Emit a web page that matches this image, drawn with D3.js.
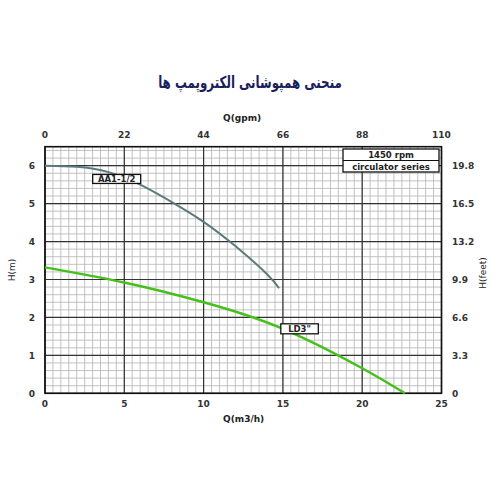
<!DOCTYPE html>
<html><head><meta charset="utf-8">
<script src="https://cdn.jsdelivr.net/npm/d3@7"></script>
<style>body{margin:0;background:#fff}svg{display:block}</style>
</head><body>
<svg id="c" width="500" height="500"></svg>
<script>
const title = "منحنی همپوشانی الکتروپمپ ها";
const xTicks = [0, 5, 10, 15, 20, 25];
const gpmTicks = [0, 22, 44, 66, 88, 110];
const yTicks = [0, 1, 2, 3, 4, 5, 6];
const feetTicks = ["0", "3.3", "6.6", "9.9", "13.2", "16.5", "19.8"];
const aaQ = [0, 2, 4, 6, 8, 10, 12, 14, 14.76];
const aaH = [6.0, 5.97, 5.83, 5.5, 5.04, 4.52, 3.88, 3.14, 2.77];
const ldQ = [0, 5, 10, 15, 20, 22.7];
const ldH = [3.32, 2.92, 2.40, 1.70, 0.66, 0];
const legendLines = ["1450 rpm", "circulator series"];

const svg = d3.select("#c");
const L = 45, R = 441.5, T = 146.7, B = 393.3;
const x = d3.scaleLinear().domain([0, 25]).range([L, R]);
const xg = d3.scaleLinear().domain([0, 110]).range([L, R]);
const y = d3.scaleLinear().domain([0, 6.5]).range([B, T]);
const font = "'DejaVu Sans', Verdana, sans-serif";

// minor grid
const g = svg.append("g");
g.selectAll("line.mx").data(d3.range(0, 25.01, 0.5)).join("line")
  .attr("x1", d => x(d)).attr("x2", d => x(d)).attr("y1", T).attr("y2", B)
  .attr("stroke", "#b4b4b4").attr("stroke-width", 0.8);
g.selectAll("line.my").data(d3.range(0, 6.41, 0.2)).join("line")
  .attr("y1", d => y(d)).attr("y2", d => y(d)).attr("x1", L).attr("x2", R)
  .attr("stroke", "#b4b4b4").attr("stroke-width", 0.8);
// major grid
g.selectAll("line.Mx").data(xTicks).join("line")
  .attr("x1", d => x(d)).attr("x2", d => x(d)).attr("y1", T).attr("y2", B)
  .attr("stroke", "#333").attr("stroke-width", 1.2);
g.selectAll("line.My").data(yTicks).join("line")
  .attr("y1", d => y(d)).attr("y2", d => y(d)).attr("x1", L).attr("x2", R)
  .attr("stroke", "#333").attr("stroke-width", 1.2);
// frame
svg.append("rect").attr("x", L).attr("y", T).attr("width", R - L).attr("height", B - T)
  .attr("fill", "none").attr("stroke", "#111").attr("stroke-width", 1.6);

// curves
const line = d3.line().x(d => x(d[0])).y(d => y(d[1])).curve(d3.curveNatural);
svg.append("path").datum(d3.zip(aaQ, aaH)).attr("d", line)
  .attr("fill", "none").attr("stroke", "#5c7a7c").attr("stroke-width", 2);
svg.append("path").datum(d3.zip(ldQ, ldH)).attr("d", line)
  .attr("fill", "none").attr("stroke", "#45c01a").attr("stroke-width", 2.4);

// curve labels
function tag(cx, cy, w, h, txt) {
  svg.append("rect").attr("x", cx - w / 2).attr("y", cy - h / 2).attr("width", w).attr("height", h)
    .attr("fill", "#fff").attr("stroke", "#111").attr("stroke-width", 1.3);
  svg.append("text").attr("x", cx).attr("y", cy + 3.3).attr("text-anchor", "middle")
    .attr("font-family", font).attr("font-weight", "bold").attr("font-size", 8.5).attr("fill", "#222").text(txt);
}
tag(x(4.52), y(5.65), 48, 9, "AA1-1/2");
tag(x(16.05), y(1.70), 37.5, 10, "LD3\"");

// legend box
const lx = 343, lw = 96, ly = 149, lh = 23;
svg.append("rect").attr("x", lx).attr("y", ly).attr("width", lw).attr("height", lh)
  .attr("fill", "#fff").attr("stroke", "#111").attr("stroke-width", 1.3);
svg.append("line").attr("x1", lx).attr("x2", lx + lw).attr("y1", ly + 11.5).attr("y2", ly + 11.5)
  .attr("stroke", "#111").attr("stroke-width", 1.2);
svg.selectAll("text.lg").data(legendLines).join("text")
  .attr("x", lx + lw / 2).attr("y", (d, i) => ly + 9 + i * 11.5).attr("text-anchor", "middle")
  .attr("font-family", font).attr("font-size", 8.5).attr("font-weight", "bold").attr("fill", "#222").text(d => d);

// tick labels
const tk = {"font-family": font, "font-weight": "bold", "font-size": 9, "fill": "#333"};
function applyAttrs(sel) { for (const k in tk) sel.attr(k, tk[k]); return sel; }
applyAttrs(svg.selectAll("text.xb").data(xTicks).join("text")
  .attr("x", d => x(d)).attr("y", 407).attr("text-anchor", "middle").text(d => d));
applyAttrs(svg.selectAll("text.xt").data(gpmTicks).join("text")
  .attr("x", d => xg(d)).attr("y", 138).attr("text-anchor", "middle").text(d => d));
applyAttrs(svg.selectAll("text.yl").data(yTicks).join("text")
  .attr("x", 32).attr("y", d => y(d) + 3.3).attr("text-anchor", "middle").text(d => d));
applyAttrs(svg.selectAll("text.yr").data(feetTicks).join("text")
  .attr("x", 452).attr("y", (d, i) => y(yTicks[i]) + 3.3).attr("text-anchor", "start").text(d => d));

// axis titles
const at = {"font-family": font, "font-size": 9, "fill": "#222"};
function ap(sel) { for (const k in at) sel.attr(k, at[k]); return sel; }
ap(svg.append("text").attr("x", 223).attr("y", 121).text("Q(gpm)").attr("font-weight", "bold"));
ap(svg.append("text").attr("x", 223).attr("y", 422).text("Q(m3/h)").attr("font-weight", "bold"));
ap(svg.append("text").attr("transform", "translate(15,270) rotate(-90)").attr("text-anchor", "middle").text("H(m)"));
ap(svg.append("text").attr("transform", "translate(486,273) rotate(-90)").attr("text-anchor", "middle").text("H(feet)"));

// title
svg.append("text").attr("transform", "translate(250,88) scale(0.72,1)").attr("text-anchor", "middle")
  .attr("direction", "rtl").attr("font-family", "'DejaVu Sans', 'Noto Sans', sans-serif")
  .attr("font-weight", "bold").attr("font-size", 16.5).attr("fill", "#1b1f5c").text(title);
</script>
</body></html>
